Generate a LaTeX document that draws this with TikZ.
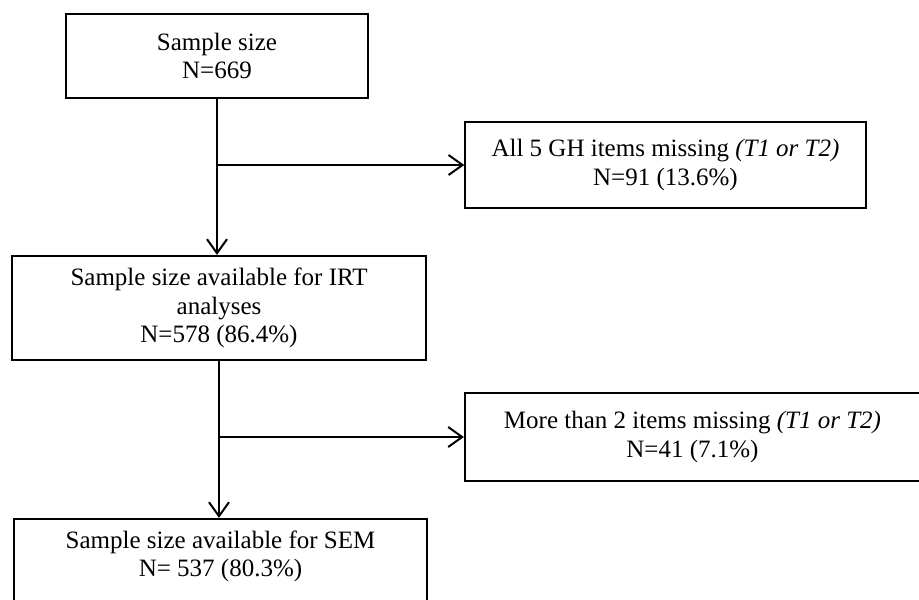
\documentclass[tikz,border=0pt]{standalone}
\usepackage{fontspec}
\setmainfont{Liberation Serif}
\usepackage{tikz}
\usetikzlibrary{arrows.meta,arrows}
\tikzset{
  box/.style = {draw, line width=2.2pt, align=center, inner sep=0pt,
    font=\fontsize{25}{28.5}\selectfont},
  thinbox/.style = {box, line width=1.4pt},
  flow/.style = {line width=2pt, -{Straight Barb[length=14pt,width=20pt,line width=2pt]}},
}

\begin{document}
\begin{tikzpicture}[x=1pt, y=-1pt]
\useasboundingbox (0,0) rectangle (919,600);
\node[box, minimum width=302, minimum height=84] (total) at (217,56)
  {Sample size\\N=669};
\node[thinbox, minimum width=401, minimum height=86] (allmiss) at (665.5,165)
  {All 5 GH items missing \textit{(T1 or T2)}\\N=91 (13.6\%)};
\node[box, minimum width=414, minimum height=104] (irt) at (219,308)
  {Sample size available for IRT\\analyses\\N=578 (86.4\%)};
\node[box, minimum width=455, minimum height=88] (moremiss) at (692.5,437)
  {More than 2 items missing \textit{(T1 or T2)}\\N=41 (7.1\%)};
\node[box, minimum width=413, minimum height=101] (sem) at (220.5,569.5) {};
\node[font=\fontsize{25}{28.5}\selectfont, align=center, inner sep=0pt] (semtext)
  at ([yshift=13pt]sem.center)
  {Sample size available for SEM\\N= 537 (80.3\%)};

% main path
\draw[flow] (total.south) -- (total.south |- irt.north);
\draw[flow] (irt.south) -- (irt.south |- sem.north);
% exclusions
\draw[flow] (total.south |- allmiss.west) -- (allmiss.west);
\draw[flow] (irt.south |- moremiss.west) -- (moremiss.west);
\end{tikzpicture}
\end{document}
